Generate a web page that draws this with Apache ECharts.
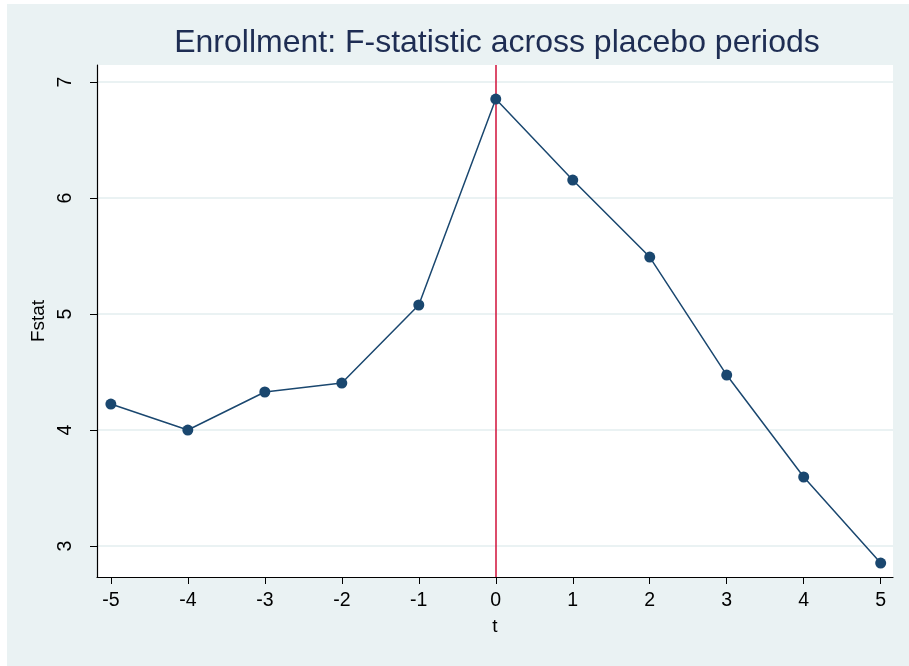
<!DOCTYPE html>
<html>
<head>
<meta charset="utf-8">
<script src="https://cdn.jsdelivr.net/npm/echarts@6/dist/echarts.min.js"></script>
<style>
html,body{margin:0;padding:0;background:#ffffff;}
#bg{position:absolute;left:7px;top:4px;width:902px;height:662px;background:#EAF2F3;}
#c{position:absolute;left:0;top:0;width:909px;height:666px;}
</style>
</head>
<body>
<div id="bg"></div>
<div id="c"></div>
<script>
const tValues = [-5, -4, -3, -2, -1, 0, 1, 2, 3, 4, 5];
const fstat = [4.224, 4.0, 4.328, 4.405, 5.078, 6.853, 6.155, 5.491, 4.474, 3.595, 2.853];
const xTicks = [-5, -4, -3, -2, -1, 0, 1, 2, 3, 4, 5];
const yTicks = [3, 4, 5, 6, 7];
const treatmentLine = 0;

const chart = echarts.init(document.getElementById('c'), null, {renderer: 'canvas'});
const font = '"Liberation Sans", Arial, sans-serif';
chart.setOption({
  backgroundColor: 'transparent',
  animation: false,
  title: {
    text: 'Enrollment: F-statistic across placebo periods',
    left: 492, top: 22, textAlign: 'center',
    textStyle: {fontFamily: font, fontSize: 32, fontWeight: 'normal', color: '#1E2D53'}
  },
  grid: {left: 97, top: 65, right: 16, bottom: 89, show: true, backgroundColor: '#ffffff', borderWidth: 0},
  xAxis: {
    type: 'value', min: -5.18, max: 5.16,
    name: 't', nameLocation: 'middle', nameGap: 40,
    nameTextStyle: {fontFamily: font, fontSize: 19, color: '#000'},
    axisLine: {show: true, onZero: false, lineStyle: {color: '#000', width: 1.2}},
    axisTick: {show: true, length: 7, customValues: xTicks, lineStyle: {color: '#000'}},
    axisLabel: {customValues: xTicks, margin: 14, fontFamily: font, fontSize: 19.5, color: '#000'},
    splitLine: {show: false}
  },
  yAxis: {
    type: 'value', min: 2.733, max: 7.147,
    name: 'Fstat', nameLocation: 'middle', nameGap: 42, nameRotate: 90,
    nameTextStyle: {fontFamily: font, fontSize: 19, color: '#000'},
    axisLine: {show: true, onZero: false, lineStyle: {color: '#000', width: 1.2}},
    axisTick: {show: true, length: 7, customValues: yTicks, lineStyle: {color: '#000'}},
    axisLabel: {customValues: yTicks, rotate: 90, margin: 21, fontFamily: font, fontSize: 19.5, color: '#000'},
    splitLine: {show: true, lineStyle: {color: '#EAF2F3', width: 2}}
  },
  series: [{
    type: 'line',
    data: tValues.map((t, i) => [t, fstat[i]]),
    symbol: 'circle', symbolSize: 11,
    itemStyle: {color: '#1A476F'},
    lineStyle: {color: '#1A476F', width: 1.5},
    z: 3,
    markLine: {
      silent: true, symbol: 'none', animation: false,
      label: {show: false},
      lineStyle: {color: '#D0103A', width: 1.5, type: 'solid'},
      data: [{xAxis: treatmentLine}],
      z: 2
    }
  }]
});
</script>
</body>
</html>
